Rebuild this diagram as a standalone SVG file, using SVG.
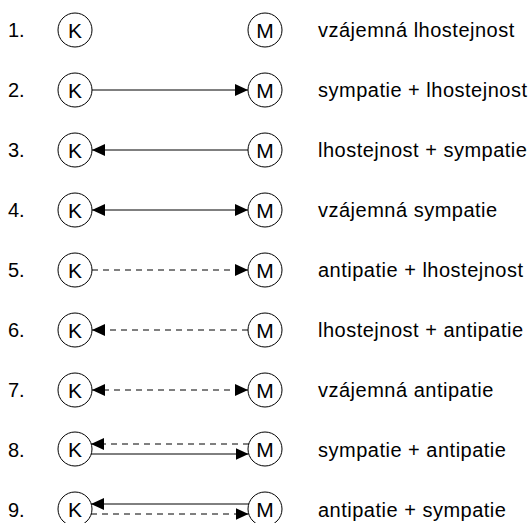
<svg xmlns="http://www.w3.org/2000/svg" width="532" height="523" viewBox="0 0 532 523">
  <style>
    .node circle { fill: #fff; stroke: #000; stroke-width: 1; }
    .node text { font-family: "Liberation Sans", Arial, sans-serif; font-size: 21px; fill: #000; text-anchor: middle; }
    .num { font-family: "Liberation Sans", Arial, sans-serif; font-size: 20px; fill: #000; }
    .lbl { font-family: "Liberation Sans", Arial, sans-serif; font-size: 20px; fill: #000; letter-spacing: 0.5px; }
    .edge { stroke: #000; stroke-width: 1; fill: none; }
    .dash { stroke-dasharray: 6 5; }
    .head { marker-end: url(#tip); }
    .both { marker-start: url(#tip); marker-end: url(#tip); }
  </style>
  <defs>
    <marker id="tip" viewBox="0 0 13 12" refX="13" refY="6" markerWidth="13" markerHeight="12" markerUnits="userSpaceOnUse" orient="auto-start-reverse">
      <path d="M0,0 L13,6 L0,12 z" fill="#000"/>
    </marker>
  </defs>

  <!-- row numbers -->
  <g id="numbers">
    <text class="num" x="8" y="37">1.</text>
    <text class="num" x="8" y="97">2.</text>
    <text class="num" x="8" y="157">3.</text>
    <text class="num" x="8" y="217">4.</text>
    <text class="num" x="8" y="277">5.</text>
    <text class="num" x="8" y="337">6.</text>
    <text class="num" x="8" y="397">7.</text>
    <text class="num" x="8" y="457">8.</text>
    <text class="num" x="8" y="517">9.</text>
  </g>

  <!-- connectors between K and M -->
  <g id="connectors">
    <line class="edge head" x1="92" y1="90" x2="248" y2="90"/>
    <line class="edge head" x1="248" y1="150" x2="92" y2="150"/>
    <line class="edge both" x1="92" y1="210" x2="248" y2="210"/>
    <line class="edge dash head" x1="92" y1="270" x2="248" y2="270"/>
    <line class="edge dash head" x1="248" y1="330" x2="92" y2="330"/>
    <line class="edge dash both" x1="92" y1="390" x2="248" y2="390"/>
    <line class="edge dash head" x1="249" y1="444" x2="91" y2="444"/>
    <line class="edge head" x1="91" y1="454" x2="248.5" y2="454"/>
    <line class="edge head" x1="249" y1="504" x2="91" y2="504"/>
    <line class="edge dash head" x1="91" y1="514" x2="248.5" y2="514"/>
  </g>

  <!-- K nodes -->
  <g id="k1" class="node"><circle cx="75" cy="30" r="17"/><text x="75" y="37.5">K</text></g>
  <g id="k2" class="node"><circle cx="75" cy="90" r="17"/><text x="75" y="97.5">K</text></g>
  <g id="k3" class="node"><circle cx="75" cy="150" r="17"/><text x="75" y="157.5">K</text></g>
  <g id="k4" class="node"><circle cx="75" cy="210" r="17"/><text x="75" y="217.5">K</text></g>
  <g id="k5" class="node"><circle cx="75" cy="270" r="17"/><text x="75" y="277.5">K</text></g>
  <g id="k6" class="node"><circle cx="75" cy="330" r="17"/><text x="75" y="337.5">K</text></g>
  <g id="k7" class="node"><circle cx="75" cy="390" r="17"/><text x="75" y="397.5">K</text></g>
  <g id="k8" class="node"><circle cx="75" cy="449" r="17"/><text x="75" y="456.5">K</text></g>
  <g id="k9" class="node"><circle cx="75" cy="509" r="17"/><text x="75" y="516.5">K</text></g>

  <!-- M nodes -->
  <g id="m1" class="node"><circle cx="265" cy="30" r="17"/><text x="265" y="37.5">M</text></g>
  <g id="m2" class="node"><circle cx="265" cy="90" r="17"/><text x="265" y="97.5">M</text></g>
  <g id="m3" class="node"><circle cx="265" cy="150" r="17"/><text x="265" y="157.5">M</text></g>
  <g id="m4" class="node"><circle cx="265" cy="210" r="17"/><text x="265" y="217.5">M</text></g>
  <g id="m5" class="node"><circle cx="265" cy="270" r="17"/><text x="265" y="277.5">M</text></g>
  <g id="m6" class="node"><circle cx="265" cy="330" r="17"/><text x="265" y="337.5">M</text></g>
  <g id="m7" class="node"><circle cx="265" cy="390" r="17"/><text x="265" y="397.5">M</text></g>
  <g id="m8" class="node"><circle cx="265" cy="449" r="17"/><text x="265" y="456.5">M</text></g>
  <g id="m9" class="node"><circle cx="265" cy="509" r="17"/><text x="265" y="516.5">M</text></g>

  <!-- relation labels -->
  <g id="labels">
    <text class="lbl" x="318" y="37">vzájemná lhostejnost</text>
    <text class="lbl" x="318" y="97">sympatie + lhostejnost</text>
    <text class="lbl" x="318" y="157">lhostejnost + sympatie</text>
    <text class="lbl" x="318" y="217">vzájemná sympatie</text>
    <text class="lbl" x="318" y="277">antipatie + lhostejnost</text>
    <text class="lbl" x="318" y="337">lhostejnost + antipatie</text>
    <text class="lbl" x="318" y="397">vzájemná antipatie</text>
    <text class="lbl" x="318" y="457">sympatie + antipatie</text>
    <text class="lbl" x="318" y="517">antipatie + sympatie</text>
  </g>
</svg>
